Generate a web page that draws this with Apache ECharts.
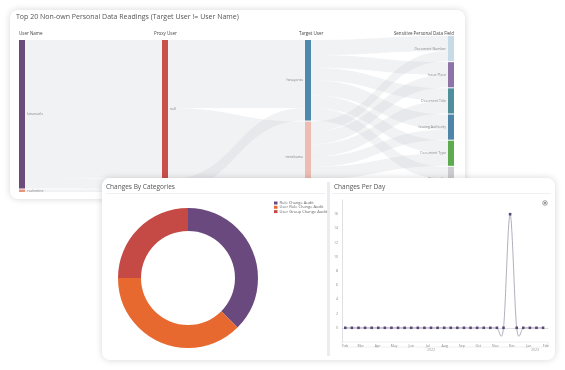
<!DOCTYPE html>
<html><head><meta charset="utf-8">
<script src="https://cdn.jsdelivr.net/npm/echarts@6/dist/echarts.min.js"></script>
<style>
html,body{margin:0;padding:0;background:#fff;width:565px;height:370px;overflow:hidden;font-family:"Open Sans",sans-serif;}
.card{position:absolute;background:#fff;border-radius:8px;box-shadow:0 0 7px rgba(0,0,0,0.16);}
#c1{left:10px;top:10px;width:455px;height:189px;}
#c2{left:102px;top:178px;width:453px;height:182px;}
</style></head><body>
<div class="card" id="c1"></div>
<div class="card" id="c2"></div>
<script>
// ---------- data ----------
const userNames = ['kmanuels', 'rvalentine'];
const proxyUsers = ['null', 'sysadmin'];
const targetUsers = ['hzsayanss', 'mmsbuma'];
const fields = ['Document Number', 'Issue Place', 'Document Title', 'Issuing Authority', 'Document Type', 'Nationality'];
// user -> proxy
const userProxyLinks = [['kmanuels', 'null', 55], ['kmanuels', 'sysadmin', 4], ['rvalentine', 'sysadmin', 1]];
// proxy -> target
const proxyTargetLinks = [['null', 'hzsayanss', 27], ['null', 'mmsbuma', 28], ['sysadmin', 'hzsayanss', 5]];
// target -> field
const fieldsFromTargetA = [6, 5, 5, 6, 5, 5];
const fieldsFromTargetB = [4, 5, 5, 4, 5, 5];

const categories = ['Role Change Audit', 'User Role Change Audit', 'User Group Change Audit'];
const categoryValues = [3, 3, 2];

const dayDates = ['2022-02-01','2022-02-13','2022-02-25','2022-03-09','2022-03-21','2022-04-02','2022-04-14','2022-04-26',
  '2022-05-08','2022-05-20','2022-06-01','2022-06-13','2022-06-25','2022-07-07','2022-07-19','2022-07-31','2022-08-12',
  '2022-08-24','2022-09-05','2022-09-17','2022-09-29','2022-10-11','2022-10-23','2022-11-04','2022-11-16','2022-11-28',
  '2022-12-10','2022-12-22','2023-01-03','2023-01-15','2023-01-27'];
const dayValues = [0,0,0,0,0,0,0,0,0,0,0,0,0,0,0,0,0,0,0,0,0,0,0,0,0,16,0,0,0,0,0];
const monthLabels = ['Jan','Feb','Mar','Apr','May','Jun','Jul','Aug','Sep','Oct','Nov','Dec'];
const yearLabels = ['2022', '2023'];
const columnHeaders = ['User Name', 'Proxy User', 'Target User', 'Sensitive Personal Data Field'];

// ---------- sankey ----------
const nodeColors = {
  'kmanuels': '#6a4b7c', 'rvalentine': '#e8937a', 'null': '#c9504c', 'sysadmin': '#d9a441',
  'hzsayanss': '#4b89ad', 'mmsbuma': '#eebcb2',
  'Document Number': '#c6dbe5', 'Issue Place': '#8d73a7', 'Document Title': '#4f8f9b',
  'Issuing Authority': '#4f85a9', 'Document Type': '#5eab4f', 'Nationality': '#cdcdd1'
};
const nodes = [];
userNames.forEach(n => nodes.push({name: n, depth: 0}));
proxyUsers.forEach(n => nodes.push({name: n, depth: 1}));
targetUsers.forEach(n => nodes.push({name: n, depth: 2, label: {position: 'left'}}));
fields.forEach(n => nodes.push({name: n, depth: 3, label: {position: 'left'}}));
nodes.forEach(n => n.itemStyle = {color: nodeColors[n.name]});
const links = [];
userProxyLinks.forEach(l => links.push({source: l[0], target: l[1], value: l[2]}));
proxyTargetLinks.forEach(l => links.push({source: l[0], target: l[1], value: l[2]}));
fields.forEach((f, i) => links.push({source: targetUsers[0], target: f, value: fieldsFromTargetA[i]}));
fields.forEach((f, i) => links.push({source: targetUsers[1], target: f, value: fieldsFromTargetB[i]}));

const FONT = '"Open Sans", sans-serif';
const c1 = echarts.init(document.getElementById('c1'));
c1.setOption({
  animation: false,
  textStyle: {fontFamily: FONT},
  title: {text: 'Top 20 Non-own Personal Data Readings (Target User != User Name)', left: 6, top: 3, padding: 0,
    textStyle: {fontSize: 7, fontWeight: 'normal', color: '#555', fontFamily: FONT}},
  graphic: [
    {type: 'text', left: 9, top: 21, style: {text: columnHeaders[0], fontSize: 4.5, fill: '#444', fontFamily: FONT}},
    {type: 'text', left: 144, top: 21, style: {text: columnHeaders[1], fontSize: 4.5, fill: '#444', fontFamily: FONT}},
    {type: 'text', left: 289, top: 21, style: {text: columnHeaders[2], fontSize: 4.5, fill: '#444', fontFamily: FONT}},
    {type: 'text', right: 11, top: 21, style: {text: columnHeaders[3], fontSize: 4.5, fill: '#444', fontFamily: FONT}}
  ],
  series: [{
    type: 'sankey', left: 9, right: 11, top: 26, bottom: 7,
    nodeWidth: 6, nodeGap: 1, layoutIterations: 32, draggable: false,
    data: nodes, links: links,
    label: {fontSize: 3.5, color: '#888', distance: 2, fontFamily: FONT},
    lineStyle: {color: '#c8cbd2', opacity: 0.25, curveness: 0.5},
    emphasis: {disabled: true}
  }]
});

// ---------- bottom card ----------
const c2 = echarts.init(document.getElementById('c2'));
const dayData = dayDates.map((d, i) => [+new Date(d + 'T00:00:00'), dayValues[i]]);

// Catmull-Rom style curve through the points, placed via the axes' own coordinate system
function renderCurve(params, api) {
  if (params.dataIndex !== 0) return null;
  const p = dayData.map(d => api.coord(d));
  let path = 'M' + p[0][0] + ' ' + p[0][1];
  for (let i = 0; i < p.length - 1; i++) {
    const a = p[Math.max(i - 1, 0)], b = p[i], c = p[i + 1], d = p[Math.min(i + 2, p.length - 1)];
    const c1x = b[0] + (c[0] - a[0]) / 6, c1y = b[1] + (c[1] - a[1]) / 6;
    const c2x = c[0] - (d[0] - b[0]) / 6, c2y = c[1] - (d[1] - b[1]) / 6;
    path += ' C' + c1x + ' ' + c1y + ' ' + c2x + ' ' + c2y + ' ' + c[0] + ' ' + c[1];
  }
  return {type: 'path', shape: {pathData: path}, style: {stroke: '#9d9aa8', fill: 'none', lineWidth: 0.8}};
}

c2.setOption({
  animation: false,
  textStyle: {fontFamily: FONT},
  color: ['#6a4a7e', '#e8692f', '#c54a45'],
  title: [
    {text: 'Changes By Categories', left: 4, top: 6, padding: 0, textStyle: {fontSize: 6.5, fontWeight: 'normal', color: '#555', fontFamily: FONT}},
    {text: 'Changes Per Day', left: 232, top: 6, padding: 0, textStyle: {fontSize: 6.5, fontWeight: 'normal', color: '#555', fontFamily: FONT}}
  ],
  graphic: [
    {type: 'rect', shape: {x: 225, y: 4, width: 3, height: 174}, style: {fill: '#ececf0'}},
    {type: 'line', shape: {x1: 4, y1: 15.5, x2: 223, y2: 15.5}, style: {stroke: '#f0f0f2', lineWidth: 1}},
    {type: 'line', shape: {x1: 230, y1: 15.5, x2: 449, y2: 15.5}, style: {stroke: '#f0f0f2', lineWidth: 1}},
    {type: 'rect', shape: {x: 240, y: 164, width: 206, height: 5}, style: {fill: 'none', stroke: '#e4e4e8', lineWidth: 0.6}},
    {type: 'text', x: 325, y: 170, style: {text: yearLabels[0], fontSize: 3.5, fill: '#999', fontFamily: FONT}},
    {type: 'text', x: 429, y: 170, style: {text: yearLabels[1], fontSize: 3.5, fill: '#999', fontFamily: FONT}},
    {type: 'circle', shape: {cx: 443, cy: 25, r: 2.3}, style: {fill: 'none', stroke: '#777', lineWidth: 0.7}},
    {type: 'circle', shape: {cx: 443, cy: 25, r: 1}, style: {fill: '#777'}}
  ],
  legend: {
    orient: 'vertical', left: 172, top: 23, padding: 0, itemWidth: 3.5, itemHeight: 3, itemGap: 0.3, icon: 'rect',
    data: categories, textStyle: {fontSize: 4, lineHeight: 3.5, color: '#666', padding: [0, 0, 0, -3]}
  },
  grid: {left: 240, top: 22, right: 7, bottom: 18},
  xAxis: {
    type: 'time', min: +new Date('2022-01-26T00:00:00'), max: +new Date('2023-02-05T00:00:00'),
    minInterval: 28 * 86400000, maxInterval: 31 * 86400000,
    axisLine: {lineStyle: {color: '#d8d8dc', width: 0.8}},
    axisTick: {show: false}, splitLine: {show: false},
    axisLabel: {fontSize: 3.5, color: '#888', margin: 1.5, hideOverlap: false,
      formatter: v => monthLabels[new Date(v).getMonth()]}
  },
  yAxis: {
    type: 'value', min: -2, max: 18, interval: 2,
    axisLine: {show: true, lineStyle: {color: '#d8d8dc', width: 0.8}},
    axisTick: {show: false}, splitLine: {show: false},
    axisLabel: {fontSize: 3.5, color: '#888', margin: 4, showMinLabel: false, showMaxLabel: false}
  },
  series: [
    {type: 'pie', center: [86, 100], radius: [47, 70], startAngle: 90, clockwise: true,
      label: {show: false}, labelLine: {show: false}, emphasis: {disabled: true},
      data: categories.map((c, i) => ({name: c, value: categoryValues[i]}))},
    {type: 'custom', data: dayData, encode: {x: 0, y: 1}, renderItem: renderCurve, z: 1, silent: true},
    {type: 'line', data: dayData, symbol: 'rect', symbolSize: 2.6, showAllSymbol: true, z: 3,
      lineStyle: {width: 0, opacity: 0}, itemStyle: {color: '#5a4779'}, emphasis: {disabled: true}}
  ]
});
</script>
</body></html>
